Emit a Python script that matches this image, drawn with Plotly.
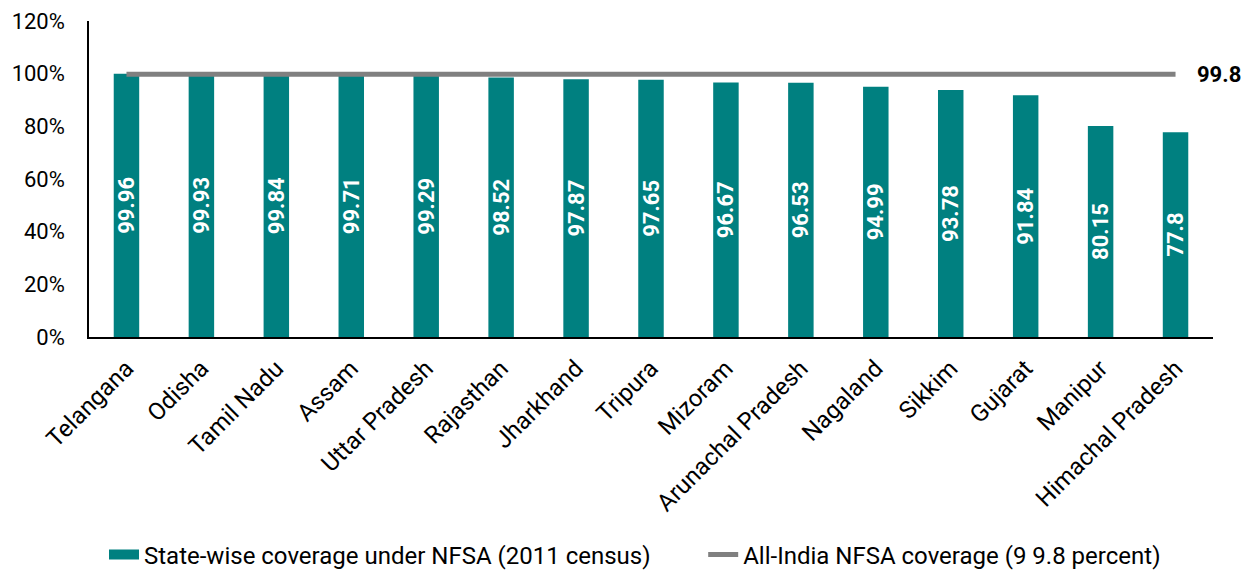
import plotly.graph_objects as go

states = ["Telangana", "Odisha", "Tamil Nadu", "Assam", "Uttar Pradesh", "Rajasthan",
          "Jharkhand", "Tripura", "Mizoram", "Arunachal Pradesh", "Nagaland", "Sikkim",
          "Gujarat", "Manipur", "Himachal Pradesh"]
coverage = [99.96, 99.93, 99.84, 99.71, 99.29, 98.52, 97.87, 97.65, 96.67, 96.53,
            94.99, 93.78, 91.84, 80.15, 77.8]
all_india = 99.8
y_ticks = [0, 20, 40, 60, 80, 100, 120]
y_tick_text = ["0%", "20%", "40%", "60%", "80%", "100%", "120%"]
bar_name = "State-wise coverage under NFSA (2011 census)"
line_name = "All-India NFSA coverage (9 9.8 percent)"

FONT = "Roboto"
TEAL = "#008080"
GREY = "#808080"

fig = go.Figure()
fig.add_trace(go.Bar(
    x=states, y=coverage,
    name=bar_name, showlegend=False, legendgroup="bar",
    marker=dict(color=TEAL, line=dict(width=0)),
    text=[str(v) for v in coverage],
    textposition="inside", insidetextanchor="middle", textangle=-90,
    constraintext="none",
    textfont=dict(family=FONT, size=22, color="white", weight="bold"),
))
# legend swatch for the bars (wide rectangle as in the reference)
fig.add_trace(go.Scatter(
    x=[None], y=[None], mode="lines", name=bar_name + "\u00a0" * 8, legendgroup="bar",
    line=dict(color=TEAL, width=15),
))
fig.add_trace(go.Scatter(
    x=states, y=[all_india] * len(states), mode="lines",
    name=line_name,
    line=dict(color=GREY, width=5),
))
fig.add_annotation(x=states[-1], y=all_india, text="<b>99.8</b>", showarrow=False,
                   xanchor="left", xshift=19, font=dict(family=FONT, size=22, color="black"))

fig.update_layout(
    width=1253, height=571,
    margin=dict(l=89, r=40, t=21, b=234, autoexpand=False),
    plot_bgcolor="white", paper_bgcolor="white",
    font=dict(family=FONT, size=22, color="black"),
    bargap=0.66,
    showlegend=True,
    legend=dict(orientation="h", xref="container", x=104 / 1253, xanchor="left",
                yref="container", y=(571 - 555) / 571, yanchor="middle",
                font=dict(family=FONT, size=24), traceorder="normal"),
    xaxis=dict(showline=True, linecolor="black", linewidth=1.5, tickangle=-45,
               ticks="", tickfont=dict(family=FONT, size=24), showgrid=False,
               automargin=False, ticklabelstandoff=6,
               range=[-0.5, len(states) - 0.5]),
    yaxis=dict(range=[0, 120], tickmode="array", tickvals=y_ticks, ticktext=y_tick_text,
               showline=True, linecolor="black", linewidth=1.5, showgrid=False,
               zeroline=False, tickfont=dict(family=FONT, size=22), ticks="",
               automargin=False, ticklabelstandoff=18),
)

fig.write_html("out.html")
